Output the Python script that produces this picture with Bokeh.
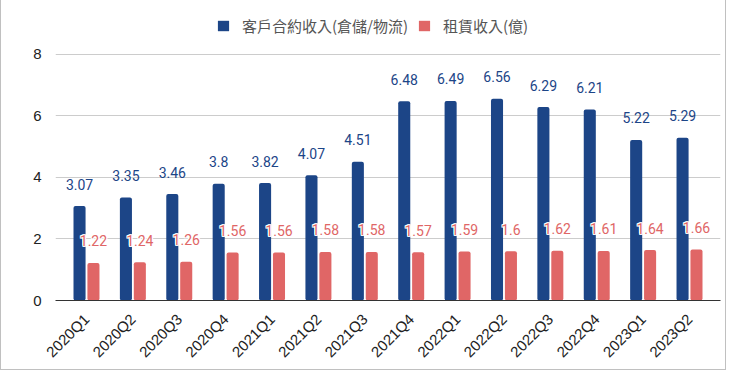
from bokeh.plotting import figure
from bokeh.models import ColumnDataSource, FactorRange, Range1d, Legend, LegendItem, FixedTicker
from bokeh.transform import dodge
from bokeh.core.properties import value
from bokeh.embed import file_html
from bokeh.resources import INLINE
import math

quarters = ["2020Q1", "2020Q2", "2020Q3", "2020Q4", "2021Q1", "2021Q2", "2021Q3",
            "2021Q4", "2022Q1", "2022Q2", "2022Q3", "2022Q4", "2023Q1", "2023Q2"]
contract = [3.07, 3.35, 3.46, 3.8, 3.82, 4.07, 4.51, 6.48, 6.49, 6.56, 6.29, 6.21, 5.22, 5.29]
rental = [1.22, 1.24, 1.26, 1.56, 1.56, 1.58, 1.58, 1.57, 1.59, 1.6, 1.62, 1.61, 1.64, 1.66]
series_names = ["客戶合約收入(倉儲/物流)", "租賃收入(億)"]
y_ticks = [0, 2, 4, 6, 8]

BLUE = "#1c4587"
RED = "#e06666"

src = ColumnDataSource(dict(
    q=quarters, contract=contract, rental=rental,
    clab=[str(v) for v in contract], rlab=[str(v) for v in rental],
))

p = figure(x_range=FactorRange(*quarters, range_padding=0.024), y_range=Range1d(0, 9.3),
           frame_width=665, frame_height=286, output_backend="svg", toolbar_location=None,
           min_border_left=54, min_border_right=5, min_border_top=14, min_border_bottom=60)

b1 = p.vbar(x=dodge("q", -0.15, range=p.x_range), top="contract", width=0.26,
            source=src, color=BLUE, line_color=None, border_radius=2)
b2 = p.vbar(x=dodge("q", 0.15, range=p.x_range), top="rental", width=0.26,
            source=src, color=RED, line_color=None, border_radius=2)

p.text(x=dodge("q", -0.15, range=p.x_range), y="contract", text="clab", source=src,
       text_align="center", text_baseline="middle", y_offset=-22,
       text_font=value("Roboto"), text_font_size="14px", text_color="#1c4587")
# white halo behind the red labels
for dx, dy in [(-1, 0), (1, 0), (0, -1), (0, 1), (-1, -1), (1, 1), (-1, 1), (1, -1)]:
    p.text(x=dodge("q", 0.15, range=p.x_range), y="rental", text="rlab", source=src,
           text_align="center", text_baseline="middle", x_offset=dx, y_offset=-22 + dy,
           text_font=value("Roboto"), text_font_size="14px", text_color="white")
p.text(x=dodge("q", 0.15, range=p.x_range), y="rental", text="rlab", source=src,
       text_align="center", text_baseline="middle", y_offset=-22,
       text_font=value("Roboto"), text_font_size="14px", text_color=RED)

legend = Legend(items=[LegendItem(label=series_names[0], renderers=[b1]),
                       LegendItem(label=series_names[1], renderers=[b2])],
                orientation="horizontal", location=(161, 264),
                border_line_color=None, background_fill_alpha=0,
                label_text_font="Noto Sans CJK TC", label_text_font_size="15px",
                label_text_color="#555555", glyph_width=14, glyph_height=13,
                spacing=9, label_standoff=12, margin=0, padding=0)
p.add_layout(legend, "center")

p.outline_line_color = None
p.xgrid.grid_line_color = None
p.ygrid.grid_line_color = "#cccccc"
p.yaxis.ticker = FixedTicker(ticks=y_ticks)
p.yaxis.axis_line_color = None
p.yaxis.major_tick_line_color = None
p.yaxis.minor_tick_line_color = None
p.yaxis.major_label_text_font = "Liberation Sans"
p.yaxis.major_label_text_font_size = "15px"
p.yaxis.major_label_text_color = "#222222"
p.yaxis.major_label_standoff = 8

p.xaxis.axis_line_color = "#333333"
p.xaxis.major_tick_line_color = None
p.xaxis.major_label_orientation = math.pi / 4
p.xaxis.major_label_text_font = "Liberation Sans"
p.xaxis.major_label_text_font_size = "15px"
p.xaxis.major_label_text_color = "#222222"
p.xaxis.major_label_standoff = 10

p.styles = {"border-left": "1px solid #c0c0c0", "border-right": "1px solid #c0c0c0",
            "border-bottom": "1px solid #c0c0c0"}

open("out.html", "w").write(file_html(p, INLINE))
